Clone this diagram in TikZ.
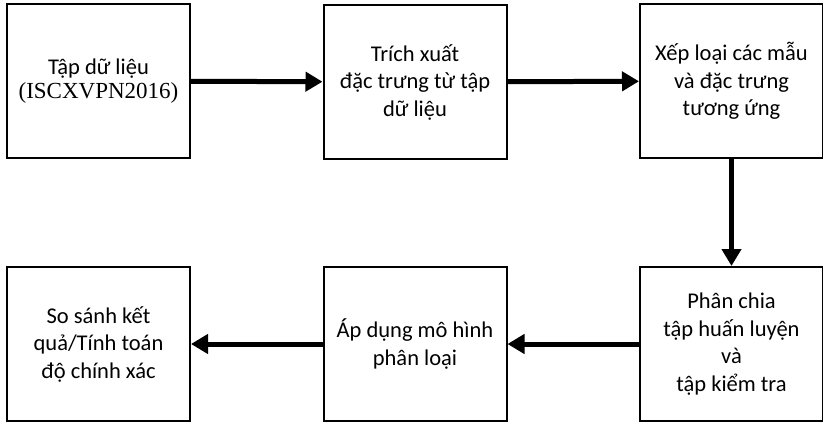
\documentclass[tikz,border=0pt]{standalone}
\usepackage{fontspec}
\setmainfont{Carlito}
\newfontfamily\tnr{Liberation Serif}
\usetikzlibrary{arrows.meta}
\begin{document}
\begin{tikzpicture}[x=1pt,y=-1pt,
  stepbox/.style={draw=black,line width=2pt,minimum width=183pt,minimum height=154pt,
    inner sep=0pt,align=center,font=\fontsize{22.5}{27.5}\selectfont},
  flow/.style={line width=5pt,-{Triangle[length=17pt,width=19pt]}}]
\useasboundingbox (0,0) rectangle (823,423);
\node[stepbox] (b1) at (98.5,81) {\raisebox{-3pt}{Tập dữ liệu}\\[-1pt]{\tnr\fontsize{23}{27}\selectfont (ISCXVPN2016)}};
\node[stepbox] (b2) at (415,82) {Trích xuất\\đặc trưng từ tập\\dữ liệu};
\node[stepbox] (b3) at (731.5,81) {Xếp loại các mẫu\\và đặc trưng\\tương ứng};
\node[stepbox] (b6) at (731.5,344) {Phân chia\\tập huấn luyện\\và\\tập kiểm tra};
\node[stepbox] (b5) at (415,344) {Áp dụng mô hình\\phân loại};
\node[stepbox] (b4) at (98.5,344) {So sánh kết\\quả/Tính toán\\độ chính xác};
\draw[flow] (b1) -- (b2);
\draw[flow] (b2) -- (b3);
\draw[flow] (b3) -- (b6);
\draw[flow] (b6) -- (b5);
\draw[flow] (b5) -- (b4);
\end{tikzpicture}
\end{document}
